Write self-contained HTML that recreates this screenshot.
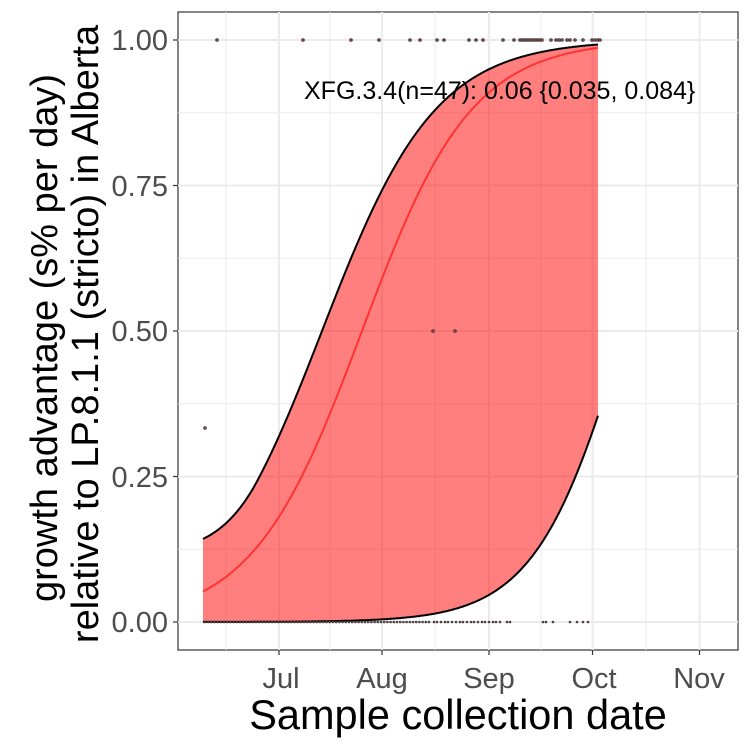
<!DOCTYPE html>
<html><head><style>body{margin:0;background:#fff}svg{display:block}</style></head><body>
<svg id="s" width="750" height="750" xmlns="http://www.w3.org/2000/svg" font-family="Liberation Sans, sans-serif">
<rect x="178" y="12" width="560" height="638" fill="#fff" stroke="#333" stroke-width="1.2"/>
<g stroke="#ebebeb" stroke-width="1">
<line x1="178" x2="738" y1="112.75" y2="112.75"/><line x1="178" x2="738" y1="258.25" y2="258.25"/><line x1="178" x2="738" y1="403.75" y2="403.75"/><line x1="178" x2="738" y1="549.25" y2="549.25"/>
<line y1="12" y2="650" x1="226" x2="226"/><line y1="12" y2="650" x1="330" x2="330"/><line y1="12" y2="650" x1="435" x2="435"/><line y1="12" y2="650" x1="541" x2="541"/><line y1="12" y2="650" x1="646" x2="646"/>
</g>
<g stroke="#ebebeb" stroke-width="2">
<line x1="178" x2="738" y1="40" y2="40"/><line x1="178" x2="738" y1="185.5" y2="185.5"/><line x1="178" x2="738" y1="331" y2="331"/><line x1="178" x2="738" y1="476.5" y2="476.5"/><line x1="178" x2="738" y1="622" y2="622"/>
<line y1="12" y2="650" x1="279" x2="279"/><line y1="12" y2="650" x1="382" x2="382"/><line y1="12" y2="650" x1="489" x2="489"/><line y1="12" y2="650" x1="592.5" x2="592.5"/><line y1="12" y2="650" x1="699.5" x2="699.5"/>
</g>
<path id="band" fill="#ff0000" fill-opacity="0.5"/>
<path id="mid" fill="none" stroke="#ff3333" stroke-width="2"/>
<path id="up" fill="none" stroke="#000" stroke-width="2"/>
<path id="lo" fill="none" stroke="#000" stroke-width="2"/>
<g id="pts" fill="#7a4a4a" stroke="#333" stroke-width="0.6"></g>
<text x="304" y="99" font-size="25" fill="#000">XFG.3.4(n=47): 0.06 {0.035, 0.084}</text>
<g stroke="#333" stroke-width="1.2">
<line x1="173" x2="178" y1="40" y2="40"/><line x1="173" x2="178" y1="185.5" y2="185.5"/><line x1="173" x2="178" y1="331" y2="331"/><line x1="173" x2="178" y1="476.5" y2="476.5"/><line x1="173" x2="178" y1="622" y2="622"/>
<line y1="650" y2="655" x1="279" x2="279"/><line y1="650" y2="655" x1="382" x2="382"/><line y1="650" y2="655" x1="489" x2="489"/><line y1="650" y2="655" x1="592.5" x2="592.5"/><line y1="650" y2="655" x1="699.5" x2="699.5"/>
</g>
<g font-size="29" fill="#4d4d4d" text-anchor="end">
<text x="168" y="50">1.00</text><text x="168" y="196">0.75</text><text x="168" y="341">0.50</text><text x="168" y="487">0.25</text><text x="168" y="632">0.00</text>
</g>
<g font-size="29" fill="#4d4d4d" text-anchor="middle">
<text x="281" y="688">Jul</text><text x="382" y="688">Aug</text><text x="489" y="688">Sep</text><text x="594" y="688">Oct</text><text x="699" y="688">Nov</text>
</g>
<text x="458" y="729" font-size="41.5" text-anchor="middle" fill="#000">Sample collection date</text>
<g font-size="38" fill="#000" text-anchor="middle">
<text transform="translate(57,338) rotate(-90)">growth advantage (s% per day)</text>
<text transform="translate(98,334) rotate(-90)">relative to LP.8.1.1 (stricto) in Alberta</text>
</g>
</svg>
<script>
function Y(p){return 622-582*p}
function sig(z){return 1/(1+Math.exp(-z))}
function fu(x){var z=0.0176*(x-322);if(x<258)z+=0.0001*(258-x)*(258-x);return z;}
var mid=[],upc=[],loc=[];
for(var x=203;x<=598;x+=1){
mid.push([x,Y(sig(0.0182*(x-362)))]);
upc.push([x,Y(sig(fu(x)))]);
loc.push([x,Y(sig(0.0222*(x-625)))]);
}
function P(a){return a.map(function(p,i){return(i?'L':'M')+p[0].toFixed(1)+','+p[1].toFixed(1)}).join('')}
document.getElementById('mid').setAttribute('d',P(mid));
document.getElementById('up').setAttribute('d',P(upc));
document.getElementById('lo').setAttribute('d',P(loc));
document.getElementById('band').setAttribute('d',P(upc)+P(loc.slice().reverse()).replace('M','L')+'Z');
var g=document.getElementById('pts'),h='';
var topPts=[217,303,351,379,410,420,437,444,469,476,483,503,514,520,522,524,526,528,530,532,534,536,538,540,542,551,556,559,562,567,570,575,583,592,595,598,600];
topPts.forEach(function(x){h+='<circle cx="'+x+'" cy="40" r="1.5"/>'});
[[433,331],[455,331],[205,428]].forEach(function(p){h+='<circle cx="'+p[0]+'" cy="'+p[1]+'" r="1.5"/>'});
for(var x=205;x<=430;x+=3.2){h+='<circle cx="'+x.toFixed(1)+'" cy="622" r="1"/>'}
[434,437,441,445,448,452,456,460,463,467,471,474,478,482,485,489,493,496,500,507,510,543,546,553,570,577,583,588].forEach(function(x){h+='<circle cx="'+x+'" cy="622" r="1"/>'});
g.innerHTML=h;
</script>
</body></html>
